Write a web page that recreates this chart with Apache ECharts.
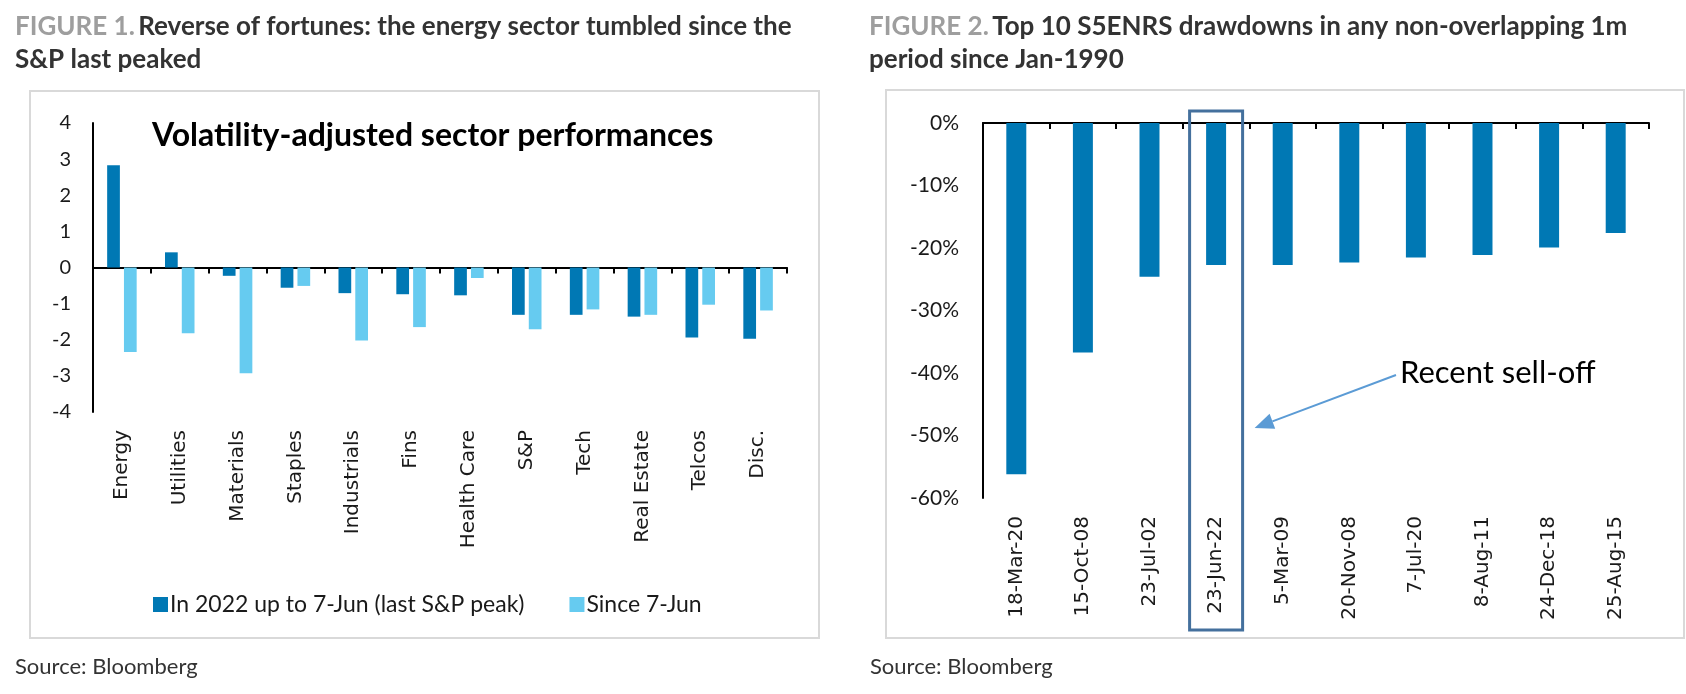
<!DOCTYPE html>
<html><head><meta charset="utf-8">
<script src="https://cdn.jsdelivr.net/npm/echarts@6/dist/echarts.min.js"></script>
<style>html,body{margin:0;padding:0;background:#fff}#c{width:1686px;height:694px}</style>
</head><body><div id="c"></div>
<script>
// ---- Figure 1 data ----
const sectors = ['Energy','Utilities','Materials','Staples','Industrials','Fins','Health Care','S&P','Tech','Real Estate','Telcos','Disc.'];
const ytdToPeak = [2.83, 0.42, -0.23, -0.56, -0.71, -0.74, -0.77, -1.31, -1.31, -1.36, -1.94, -1.97];
const sincePeak = [-2.34, -1.82, -2.93, -0.51, -2.02, -1.65, -0.29, -1.71, -1.16, -1.31, -1.03, -1.19];
const fig1Ticks = [-4, -3, -2, -1, 0, 1, 2, 3, 4];
// ---- Figure 2 data ----
const drawdownDates = ['18-Mar-20','15-Oct-08','23-Jul-02','23-Jun-22','5-Mar-09','20-Nov-08','7-Jul-20','8-Aug-11','24-Dec-18','25-Aug-15'];
const drawdowns = [-56.2, -36.7, -24.6, -22.7, -22.7, -22.3, -21.5, -21.1, -19.9, -17.6];
const fig2Ticks = [-60, -50, -40, -30, -20, -10, 0];
const highlightDate = '23-Jun-22';

const DARK = '#0078B4', LIGHT = '#66CBF0';
const NUM_FONT = 'Lato';
const CAT_FONT = 'DejaVu Sans';

const chart = echarts.init(document.getElementById('c'));

function catAxes(gridIndex, data, yIndex) {
  return [
    { gridIndex, type: 'category', data, position: 'bottom',
      axisLine: { show: false, onZero: false }, axisTick: { show: false },
      axisLabel: { rotate: 90, margin: 18, interval: 0, fontFamily: CAT_FONT, fontSize: 20, color: '#1a1a1a' } },
    { gridIndex, type: 'category', data, position: 'top',
      axisLine: { show: true, onZero: true, onZeroAxisIndex: yIndex, lineStyle: { color: '#000', width: 2 } },
      axisTick: { show: true, inside: true, length: 6, interval: 0, lineStyle: { color: '#000', width: 2 } },
      axisLabel: { show: false } }
  ];
}

chart.setOption({
  animation: false,
  grid: [
    { left: 93, top: 123, width: 694, height: 289, outerBoundsMode: 'none' },
    { left: 983, top: 123, width: 666, height: 375, outerBoundsMode: 'none' }
  ],
  xAxis: [...catAxes(0, sectors, 0), ...catAxes(1, drawdownDates, 1)],
  yAxis: [
    { gridIndex: 0, type: 'value', min: fig1Ticks[0], max: fig1Ticks[fig1Ticks.length-1], interval: fig1Ticks[1]-fig1Ticks[0],
      axisLine: { show: true, onZero: false, lineStyle: { color: '#000', width: 2 } }, axisTick: { show: false }, splitLine: { show: false },
      axisLabel: { margin: 22, fontFamily: NUM_FONT, fontSize: 20, color: '#1a1a1a' } },
    { gridIndex: 1, type: 'value', min: fig2Ticks[0], max: fig2Ticks[fig2Ticks.length-1], interval: fig2Ticks[1]-fig2Ticks[0],
      axisLine: { show: true, onZero: false, lineStyle: { color: '#000', width: 2 } }, axisTick: { show: false }, splitLine: { show: false },
      axisLabel: { margin: 24, formatter: '{value}%', fontFamily: NUM_FONT, fontSize: 21, color: '#1a1a1a' } }
  ],
  legend: {
    data: ['In 2022 up to 7-Jun (last S&P peak)', 'Since 7-Jun'],
    left: 148, top: 588, icon: 'rect', itemWidth: 15, itemHeight: 15, itemGap: 45,
    textStyle: { fontFamily: NUM_FONT, fontSize: 23, color: '#1a1a1a', padding: [0, 0, 0, -3] }
  },
  series: [
    { name: 'In 2022 up to 7-Jun (last S&P peak)', type: 'bar', xAxisIndex: 0, yAxisIndex: 0, data: ytdToPeak,
      itemStyle: { color: DARK }, barWidth: '22%', barGap: '32%' },
    { name: 'Since 7-Jun', type: 'bar', xAxisIndex: 0, yAxisIndex: 0, data: sincePeak,
      itemStyle: { color: LIGHT }, barWidth: '22%', barGap: '32%' },
    { name: 'Drawdown', type: 'bar', xAxisIndex: 2, yAxisIndex: 1, data: drawdowns,
      itemStyle: { color: DARK }, barWidth: '30%' }
  ]
});

const cx = chart.convertToPixel({ xAxisIndex: 2 }, highlightDate);
const y0 = chart.convertToPixel({ yAxisIndex: 1 }, 0);
const boxW = 53, boxTop = y0 - 12, boxH = 519;
const tip = [cx + boxW / 2 + 12, y0 + 305];
const start = [1396, 375];
const dx = tip[0] - start[0], dy = tip[1] - start[1];
const L = Math.hypot(dx, dy), ux = dx / L, uy = dy / L;
const headLen = 19, headHalf = 8;
const base = [tip[0] - ux * headLen, tip[1] - uy * headLen];
const nx = -uy, ny = ux;

const headerRich = {
  g: { fontFamily: NUM_FONT, fontWeight: 'bold', fontSize: 26, fill: '#9e9e9e', color: '#9e9e9e' },
  b: { fontFamily: NUM_FONT, fontWeight: 'bold', fontSize: 26, fill: '#333333', color: '#333333' }
};

chart.setOption({
  graphic: [
    { type: 'rect', shape: { x: 30, y: 91, width: 789, height: 547 }, style: { fill: 'none', stroke: '#d9d9d9', lineWidth: 2 }, silent: true, z: -1 },
    { type: 'rect', shape: { x: 886, y: 90, width: 798, height: 548 }, style: { fill: 'none', stroke: '#d9d9d9', lineWidth: 2 }, silent: true, z: -1 },
    { type: 'text', x: 15, y: 10, style: { text: '{g|FIGURE 1.} {b|Reverse of fortunes: the energy sector tumbled since the}\n{b|S&P last peaked}', rich: headerRich, lineHeight: 33 } },
    { type: 'text', x: 869, y: 10, style: { text: '{g|FIGURE 2.} {b|Top 10 S5ENRS drawdowns in any non-overlapping 1m}\n{b|period since Jan-1990}', rich: headerRich, lineHeight: 33 } },
    { type: 'text', x: 152, y: 136, style: { text: 'Volatility-adjusted sector performances', fontFamily: NUM_FONT, fontWeight: 'bold', fontSize: 32, fill: '#000', verticalAlign: 'middle' } },
    { type: 'text', x: 15, y: 667, style: { text: 'Source: Bloomberg', fontFamily: NUM_FONT, fontSize: 22, fill: '#333', verticalAlign: 'middle' } },
    { type: 'text', x: 870, y: 667, style: { text: 'Source: Bloomberg', fontFamily: NUM_FONT, fontSize: 22, fill: '#333', verticalAlign: 'middle' } },
    { type: 'rect', shape: { x: cx - boxW / 2, y: boxTop, width: boxW, height: boxH }, style: { fill: 'none', stroke: '#44709D', lineWidth: 3 }, z: 10 },
    { type: 'line', shape: { x1: start[0], y1: start[1], x2: base[0], y2: base[1] }, style: { stroke: '#5B9BD5', lineWidth: 2 }, z: 10 },
    { type: 'polygon', shape: { points: [tip, [base[0] + nx * headHalf, base[1] + ny * headHalf], [base[0] - nx * headHalf, base[1] - ny * headHalf]] }, style: { fill: '#5B9BD5' }, z: 10 },
    { type: 'text', x: 1400, y: 373, style: { text: 'Recent sell-off', fontFamily: NUM_FONT, fontSize: 31, fill: '#000', verticalAlign: 'middle' } }
  ]
});
</script></body></html>
